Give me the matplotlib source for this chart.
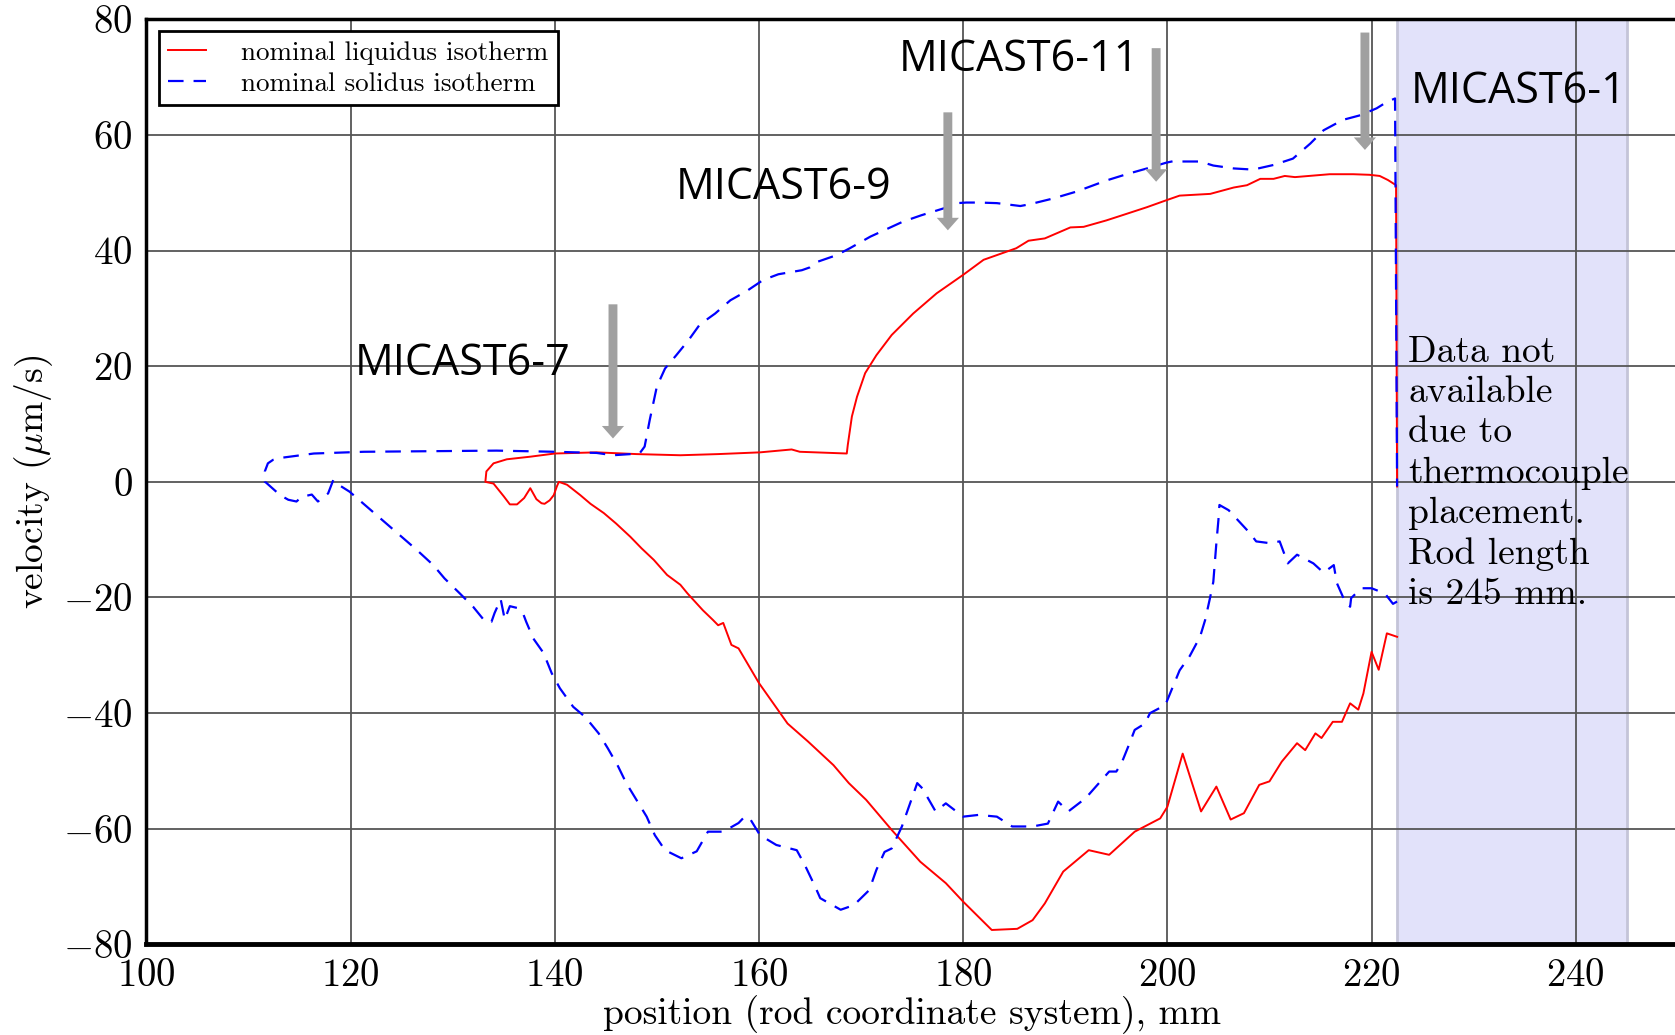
import numpy as np
import matplotlib
matplotlib.use('Agg')
import matplotlib.pyplot as plt

# liquidus isotherm: lower branch (heating) and upper branch (cooling)
liq_low_x = [133.2, 134.0, 135.0, 135.6, 136.3, 137.0, 137.6, 138.2, 138.7, 139.0,
             139.5, 139.9, 140.2, 140.4, 141.2, 142.5, 143.5, 144.8, 146.0, 147.4,
             148.5, 149.7, 151.0, 152.3, 153.0, 154.5, 155.5, 156.0, 156.5, 157.3,
             158.0, 160.0, 162.8, 164.8, 167.3, 168.8, 170.5, 173.0, 175.8, 178.3,
             180.0, 182.8, 185.3, 186.8, 188.0, 189.8, 192.3, 194.3, 196.8, 199.3,
             200.0, 201.5, 203.3, 204.8, 206.2, 207.5, 209.0, 210.0, 211.2, 212.7,
             213.5, 214.5, 215.1, 216.2, 217.1, 217.9, 218.7, 219.2, 220.0, 220.7,
             221.5, 222.5]
liq_low_y = [0.0, -0.3, -2.5, -3.9, -3.9, -2.8, -1.1, -3.0, -3.7, -3.8,
             -3.2, -2.3, -0.8, 0.0, -0.5, -2.3, -3.8, -5.4, -7.2, -9.5,
             -11.5, -13.5, -16.1, -17.8, -19.3, -22.2, -23.9, -24.8, -24.4, -28.2,
             -28.8, -34.8, -41.8, -44.9, -49.0, -52.1, -55.0, -60.2, -65.7, -69.4,
             -72.6, -77.5, -77.3, -75.8, -72.9, -67.4, -63.7, -64.5, -60.5, -58.2,
             -56.2, -47.0, -57.0, -52.7, -58.4, -57.3, -52.4, -51.8, -48.4, -45.2,
             -46.4, -43.5, -44.3, -41.5, -41.5, -38.3, -39.4, -36.6, -29.4, -32.5,
             -26.2, -26.8]
liq_up_x = [133.2, 133.3, 134.0, 135.3, 137.6, 140.0, 144.1, 148.0, 152.3, 156.0,
            160.1, 163.2, 164.0, 168.6, 168.7, 169.1, 169.6, 170.4, 171.5, 173.0,
            175.1, 177.4, 180.0, 182.0, 183.6, 185.2, 186.4, 188.0, 190.5, 191.8,
            194.0, 195.4, 198.0, 199.9, 201.2, 204.2, 206.5, 207.8, 209.1, 210.4,
            211.5, 212.5, 215.9, 218.2, 219.8, 220.8, 221.6, 222.4, 222.5]
liq_up_y = [0.0, 1.8, 3.2, 3.9, 4.35, 4.9, 5.1, 4.8, 4.6, 4.8,
            5.1, 5.6, 5.2, 4.9, 6.4, 11.3, 14.7, 18.8, 21.9, 25.4,
            29.1, 32.6, 35.8, 38.4, 39.4, 40.4, 41.7, 42.1, 44.0, 44.1,
            45.2, 46.0, 47.5, 48.7, 49.5, 49.8, 50.9, 51.3, 52.4, 52.4,
            52.9, 52.7, 53.2, 53.2, 53.1, 52.9, 52.2, 51.3, -0.8]

# solidus isotherm
sol_low_x = [111.6, 111.7, 113.1, 113.9, 114.7, 115.2, 116.2, 116.8, 117.8, 118.3,
             119.0, 119.9, 121.6, 123.5, 126.5, 128.1, 129.2, 130.7, 132.0, 133.2,
             133.8, 134.1, 134.7, 135.1, 135.6, 136.3, 136.9, 137.2, 137.9, 138.9,
             139.7, 140.5, 141.8, 143.0, 144.3, 145.2, 146.2, 147.0, 148.0, 149.0,
             149.8, 150.8, 152.4, 153.9, 155.0, 156.5, 158.0, 158.6, 159.1, 160.1,
             161.7, 163.7, 164.5, 165.5, 166.0, 168.0, 169.3, 170.8, 171.5, 172.3,
             173.0, 174.0, 174.8, 175.5, 176.0, 177.3, 178.3, 180.0, 181.5, 183.3,
             184.8, 186.8, 188.3, 189.3, 190.3, 192.0, 193.0, 194.3, 195.0, 195.5,
             196.3, 196.8, 197.8, 198.3, 199.8, 200.4, 201.2, 202.2, 203.2, 203.7,
             204.2, 204.5, 204.8, 205.0, 205.1, 206.0, 206.9, 208.1, 208.7, 210.0,
             211.0, 211.8, 212.7, 214.3, 215.3, 216.3, 216.6, 217.4, 217.9, 218.0,
             219.0, 220.0, 221.3, 222.1, 222.5]
sol_low_y = [0.0, -0.1, -2.3, -3.1, -3.4, -2.6, -2.2, -3.4, -2.0, 0.3,
             -0.7, -1.7, -4.3, -7.2, -11.8, -14.4, -16.7, -19.3, -21.6, -24.2,
             -24.2, -22.7, -20.3, -23.8, -21.5, -21.8, -22.8, -24.2, -27.1, -29.6,
             -33.1, -35.7, -38.9, -40.7, -43.5, -46.1, -49.2, -52.1, -55.0, -57.9,
             -61.1, -63.7, -65.1, -63.9, -60.5, -60.5, -59.0, -57.9, -58.2, -61.1,
             -62.8, -63.7, -66.3, -70.0, -72.0, -74.0, -73.2, -70.6, -67.1, -64.0,
             -63.4, -59.6, -55.6, -52.1, -53.0, -57.0, -55.6, -57.9, -57.6, -57.9,
             -59.6, -59.6, -59.1, -55.3, -57.0, -54.7, -52.7, -50.1, -50.1, -48.7,
             -45.2, -42.9, -41.8, -40.0, -38.6, -36.0, -32.6, -30.1, -26.8, -23.9,
             -19.9, -17.3, -10.6, -6.6, -4.0, -4.9, -6.6, -8.9, -10.3, -10.6,
             -10.3, -14.1, -12.6, -14.1, -15.7, -14.4, -17.5, -20.7, -21.6, -20.1,
             -18.4, -18.4, -19.3, -21.1, -20.7]
sol_up_x = [111.6, 111.6, 111.9, 112.4, 113.4, 116.4, 121.3, 127.8, 134.3, 140.0,
            144.1, 145.7, 148.3, 148.8, 149.3, 150.0, 150.8, 151.9, 153.1, 154.2,
            155.7, 157.2, 158.8, 160.4, 161.9, 164.2, 165.0, 165.8, 167.6, 168.9,
            170.9, 172.5, 174.1, 175.9, 178.1, 179.4, 180.3, 181.6, 183.3, 185.6,
            186.5, 188.8, 191.1, 194.0, 196.0, 198.0, 199.9, 200.7, 201.4, 203.2,
            204.5, 206.5, 208.4, 210.4, 212.3, 214.0, 215.3, 217.2, 218.9, 220.5,
            221.5, 222.3, 222.5]
sol_up_y = [0.0, 1.8, 3.2, 3.8, 4.2, 4.9, 5.2, 5.3, 5.4, 5.2,
            5.0, 4.6, 4.9, 6.1, 10.7, 16.5, 19.6, 21.9, 24.5, 27.2,
            29.1, 31.4, 33.0, 34.9, 35.9, 36.6, 37.1, 38.1, 39.2, 40.4,
            42.4, 43.7, 45.0, 46.1, 47.3, 48.2, 48.3, 48.3, 48.2, 47.7,
            48.0, 49.0, 50.2, 52.1, 53.2, 54.2, 55.2, 55.5, 55.4, 55.4,
            54.7, 54.2, 54.0, 54.8, 55.9, 58.5, 60.8, 62.6, 63.4, 64.6,
            65.7, 66.3, -0.8]

# sample markers
samples = ['MICAST6-7', 'MICAST6-9', 'MICAST6-11', 'MICAST6-1']
arrow_x = [145.7, 178.5, 198.9, 219.35]
arrow_top = [30.7, 63.9, 75.0, 77.7]
arrow_tip = [7.5, 43.5, 51.9, 57.4]
label_x = [131.0, 162.4, 185.5, 234.4]
label_y = [20.5, 50.9, 73.0, 67.4]

no_data = (222.5, 245.0)
note = 'Data not\navailable\ndue to\nthermocouple\nplacement.\nRod length\nis 245 mm.'

plt.rcParams['font.family'] = 'serif'
plt.rcParams['font.serif'] = ['cmr10']
plt.rcParams['mathtext.fontset'] = 'cm'
plt.rcParams['axes.formatter.use_mathtext'] = True

fig = plt.figure(figsize=(16.75, 10.35), dpi=100)
ax = fig.add_axes([0.0874, 0.0875, 0.9143, 0.8939])

ax.axvspan(no_data[0], no_data[1], facecolor='#e2e2fa', edgecolor='#c4c4d8', lw=2, zorder=0.3)

lx = np.concatenate([liq_low_x[::-1], liq_up_x])
ly = np.concatenate([liq_low_y[::-1], liq_up_y])
sx = np.concatenate([sol_low_x[::-1], sol_up_x])
sy = np.concatenate([sol_low_y[::-1], sol_up_y])

ax.plot(lx, ly, color='#ff0000', lw=1.4, label='nominal liquidus isotherm', zorder=3)
ax.plot(sx, sy, color='#0000ff', lw=1.6, ls=(0, (7, 4.5)), label='nominal solidus isotherm', zorder=3)

for xa, yt, yh in zip(arrow_x, arrow_top, arrow_tip):
    ax.annotate('', xy=(xa, yh), xytext=(xa, yt),
                arrowprops=dict(arrowstyle='simple,head_length=0.45,head_width=0.8,tail_width=0.32',
                                mutation_scale=20, color='#a0a0a0', lw=0,
                                shrinkA=0, shrinkB=0), zorder=4)

for name, tx, ty in zip(samples, label_x, label_y):
    ax.text(tx, ty, name, family='Open Sans', fontsize=31, ha='center', va='center', zorder=5)

ax.text(223.6, 25.3, note, fontsize=27, ha='left', va='top', linespacing=1.27, zorder=5)

ax.set_xlim(100, 250)
ax.set_ylim(-80, 80)
ax.set_xticks(np.arange(100, 241, 20))
ax.set_yticks(np.arange(-80, 81, 20))
ax.grid(True, color='#555555', lw=1.3)
ax.set_axisbelow(True)
ax.tick_params(length=0, labelsize=28, pad=10)

for side in ['top', 'bottom', 'left']:
    ax.spines[side].set_linewidth(2.5)
ax.spines['bottom'].set_linewidth(3.5)

ax.set_xlabel('position (rod coordinate system), mm', fontsize=27, labelpad=1)
ax.set_ylabel(r'velocity ($\mu$m/s)', fontsize=27, labelpad=6)

leg = ax.legend(loc='upper left', fontsize=19.5, fancybox=False, framealpha=1,
                edgecolor='black', borderaxespad=0.45, handlelength=1.4,
                handletextpad=1.3, labelspacing=0.25, borderpad=0.35)
leg.get_frame().set_linewidth(2)

fig.savefig('out.png', dpi=100)
